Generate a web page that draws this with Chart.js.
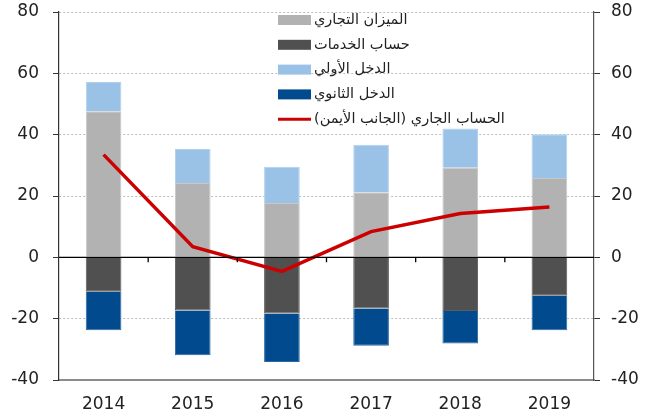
<!DOCTYPE html>
<html lang="ar">
<head>
<meta charset="utf-8">
<script src="https://cdn.jsdelivr.net/npm/chart.js@4"></script>
<style>
  html, body { margin: 0; padding: 0; background: #fff; }
  #wrap { width: 652px; height: 418px; position: relative; }
</style>
</head>
<body>
<div id="wrap"><canvas id="chart"></canvas></div>
<script>
const years = ['2014', '2015', '2016', '2017', '2018', '2019'];

// مكونات الحساب الجاري
const tradeBalance = [47.6, 24.2, 17.7, 21.2, 29.2, 25.9];
const services = [-11.2, -17.3, -18.3, -16.7, -17.5, -12.5];
const primaryIncome = [9.6, 11.1, 11.8, 15.5, 12.8, 14.2];
const secondaryIncome = [-12.6, -14.6, -15.8, -12.1, -10.6, -11.3];
const currentAccount = [33.5, 3.5, -4.6, 8.4, 14.3, 16.4];

const yTicks = [-40, -20, 0, 20, 40, 60, 80];

const FONT = "'DejaVu Sans', 'Liberation Sans', sans-serif";

// وسيلة الإيضاح داخل منطقة الرسم (أعلى الوسط)
const insideLegend = {
    id: 'insideLegend',
    afterDraw(chart) {
        const ctx = chart.ctx;
        const x0 = chart.chartArea.left + 219;
        const y0 = chart.chartArea.top + 8;
        const rowH = 24.8;
        ctx.save();
        ctx.font = '14.5px ' + FONT;
        ctx.textBaseline = 'middle';
        ctx.direction = 'rtl';
        ctx.textAlign = 'left';
        chart.data.datasets.forEach(function (ds, i) {
            const y = y0 + i * rowH;
            if (ds.type === 'line') {
                ctx.strokeStyle = ds.borderColor;
                ctx.lineWidth = 3;
                ctx.beginPath();
                ctx.moveTo(x0, y);
                ctx.lineTo(x0 + 33, y);
                ctx.stroke();
            } else {
                ctx.fillStyle = ds.backgroundColor;
                ctx.fillRect(x0, y - 5, 33, 10);
            }
            ctx.fillStyle = '#222';
            ctx.fillText(ds.label, x0 + 36, y);
        });
        ctx.restore();
    },
};

// خط الصفر الأسود مع علامات صغيرة بين السنوات
const zeroLine = {
    id: 'zeroLine',
    afterDatasetsDraw(chart) {
        const ctx = chart.ctx;
        const xs = chart.scales.x;
        const y0 = chart.scales.y.getPixelForValue(0);
        ctx.save();
        ctx.strokeStyle = '#000';
        ctx.lineWidth = 1.3;
        ctx.beginPath();
        ctx.moveTo(chart.chartArea.left, y0);
        ctx.lineTo(chart.chartArea.right, y0);
        for (let i = 1; i < years.length; i++) {
            const xm = (xs.getPixelForValue(i - 1) + xs.getPixelForValue(i)) / 2;
            ctx.moveTo(xm, y0);
            ctx.lineTo(xm, y0 + 5);
        }
        ctx.stroke();
        ctx.restore();
    },
};

function fixY(width) {
    return function (s) {
        s.width = width;
        s.paddingTop = 0;
        s.paddingBottom = 0;
    };
}

new Chart(document.getElementById('chart'), {
    type: 'bar',
    data: {
        labels: years,
        datasets: [
            { label: 'الميزان التجاري', data: tradeBalance, backgroundColor: '#b2b2b2', borderColor: '#c8c8c8', borderWidth: 1, order: 1, yAxisID: 'y' },
            { label: 'حساب الخدمات', data: services, backgroundColor: '#505050', borderColor: '#5c5c5c', borderWidth: 1, order: 1, yAxisID: 'y' },
            { label: 'الدخل الأولي', data: primaryIncome, backgroundColor: '#99c2e6', borderColor: '#b0d0ee', borderWidth: 1, order: 1, yAxisID: 'y' },
            { label: 'الدخل الثانوي', data: secondaryIncome, backgroundColor: '#004a8d', borderColor: '#2a6aa5', borderWidth: 1, order: 1, yAxisID: 'y' },
            {
                type: 'line', label: 'الحساب الجاري (الجانب الأيمن)', data: currentAccount,
                borderColor: '#cc0000', backgroundColor: '#cc0000', borderWidth: 3.5,
                pointRadius: 0, tension: 0, order: 0, yAxisID: 'y1',
            },
        ],
    },
    options: {
        responsive: true,
        maintainAspectRatio: false,
        animation: false,
        categoryPercentage: 1,
        barPercentage: 0.4,
        layout: { padding: { top: 12, left: 0, right: 0, bottom: 0 } },
        plugins: { legend: { display: false }, tooltip: { enabled: false } },
        scales: {
            x: {
                stacked: true,
                grid: { display: false },
                border: { display: true, color: '#8c8c8c', width: 2 },
                ticks: { color: '#222', font: { family: FONT, size: 17 }, padding: 6 },
                afterFit(s) { s.height = 38; s.paddingLeft = 0; s.paddingRight = 0; },
            },
            y: {
                stacked: true,
                position: 'left',
                min: -40, max: 80,
                afterBuildTicks(s) { s.ticks = yTicks.map((v) => ({ value: v })); },
                grid: {
                    color: (c) => c.tick.value === -40 ? '#8c8c8c' : '#bdbdbd',
                    lineWidth: 1,
                    tickColor: '#333', tickLength: 6, tickWidth: 1,
                },
                border: { display: true, color: '#333', width: 1.2, dash: (c) => (c.tick && c.tick.value === -40) ? [] : [2, 2] },
                ticks: { color: '#222', font: { family: FONT, size: 17 }, padding: 14 },
                afterFit: fixY(59),
            },
            y1: {
                position: 'right',
                min: -40, max: 80,
                afterBuildTicks(s) { s.ticks = yTicks.map((v) => ({ value: v })); },
                grid: { drawOnChartArea: false, tickColor: '#333', tickLength: 6 },
                border: { display: true, color: '#555', width: 1.2 },
                ticks: { color: '#222', font: { family: FONT, size: 17 }, padding: 11 },
                afterFit: fixY(58),
            },
        },
    },
    plugins: [zeroLine, insideLegend],
});
</script>
</body>
</html>
